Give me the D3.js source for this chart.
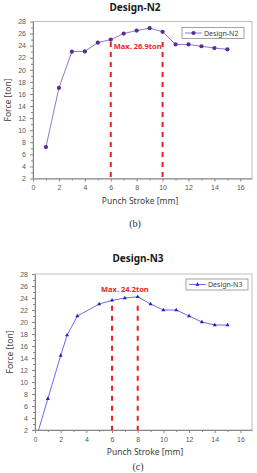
<!DOCTYPE html>
<html>
<head>
<meta charset="utf-8">
<script src="https://cdn.jsdelivr.net/npm/d3@7"></script>
<style>
  html, body { margin: 0; padding: 0; background: #fff; }
  svg { display: block; font-family: "Noto Sans", "DejaVu Sans", sans-serif; }
  .tick text { fill: #595959; font-size: 7px; }
  .tick line { stroke: #868686; }
  .domain { stroke: #868686; }
</style>
</head>
<body>
<svg id="fig" width="257" height="473"></svg>
<script>
// Design-N2 curve
var n2Stroke = [1, 2, 3, 4, 5, 6, 7, 8, 9, 10, 11, 12, 13, 14, 15];
var n2Force  = [7.2, 17, 23, 23.05, 24.5, 25, 26, 26.5, 26.9, 26.3, 24.2, 24.2, 23.9, 23.6, 23.4];
var n2MaxLines = [6, 10];

// Design-N3 curve (starts at origin, clipped by the y axis min)
var n3Stroke = [0, 1, 2, 2.5, 3.3, 5, 6, 7, 8, 9, 10, 11, 12, 13, 14, 15];
var n3Force  = [0, 7.2, 14.4, 17.8, 21, 23, 23.6, 24, 24.2, 23, 22, 22, 21, 20, 19.5, 19.5];
var n3MaxLines = [6, 8];

var xTicks = [0, 2, 4, 6, 8, 10, 12, 14, 16];
var yTicks = [2, 4, 6, 8, 10, 12, 14, 16, 18, 20, 22, 24, 26, 28];

var svg = d3.select('#fig');

// draws one of the two panels
function drawPanel(cfg) {
  var x = d3.scaleLinear().domain([0, 16.9]).range([cfg.left, cfg.right]);
  var y = d3.scaleLinear().domain([2, 28]).range([cfg.bottom, cfg.top]);
  var g = svg.append('g');

  g.append('text')
    .attr('x', cfg.titleX).attr('y', cfg.titleY)
    .attr('text-anchor', 'middle')
    .attr('font-size', 10).attr('font-weight', 'bold').attr('fill', '#1a1a1a')
    .text(cfg.title);

  // plot border
  g.append('rect')
    .attr('x', cfg.left).attr('y', cfg.top)
    .attr('width', cfg.right - cfg.left).attr('height', cfg.bottom - cfg.top)
    .attr('fill', 'none').attr('stroke', '#b0b0b0').attr('stroke-width', 0.8);

  // minor ticks
  g.append('g')
    .attr('transform', 'translate(0,' + cfg.bottom + ')')
    .call(d3.axisBottom(x).tickValues(d3.range(1, 17, 2)).tickSize(2).tickFormat(''))
    .select('.domain').remove();
  g.append('g')
    .attr('transform', 'translate(' + cfg.left + ',0)')
    .call(d3.axisLeft(y).tickValues(d3.range(3, 28, 2)).tickSize(2).tickFormat(''))
    .select('.domain').remove();

  g.append('g')
    .attr('transform', 'translate(0,' + cfg.bottom + ')')
    .call(d3.axisBottom(x).tickValues(xTicks).tickSize(3).tickPadding(4).tickSizeOuter(0));
  g.append('g')
    .attr('transform', 'translate(' + cfg.left + ',0)')
    .call(d3.axisLeft(y).tickValues(yTicks).tickSize(3).tickPadding(4).tickSizeOuter(0));

  g.append('text')
    .attr('x', cfg.xTitleX).attr('y', cfg.bottom + 25)
    .attr('text-anchor', 'middle').attr('font-size', 8.5).attr('fill', '#404040')
    .text('Punch Stroke [mm]');
  g.append('text')
    .attr('transform', 'translate(' + (cfg.left - 22) + ',' + ((cfg.top + cfg.bottom) / 2) + ') rotate(-90)')
    .attr('text-anchor', 'middle').attr('font-size', 8.5).attr('fill', '#404040')
    .text('Force [ton]');

  // red dashed max lines
  g.selectAll('line.max')
    .data(cfg.maxLines)
    .enter().append('line')
    .attr('class', 'max')
    .attr('x1', function(d) { return x(d); }).attr('x2', function(d) { return x(d); })
    .attr('y1', y(cfg.maxTop)).attr('y2', y(2))
    .attr('stroke', '#ee1c24').attr('stroke-width', 2)
    .attr('stroke-dasharray', '5,5');

  g.append('text')
    .attr('x', cfg.maxLabelX(x)).attr('y', cfg.maxLabelY)
    .attr('text-anchor', cfg.maxAnchor)
    .attr('font-size', 7.5).attr('font-weight', 'bold').attr('fill', '#ee1c24')
    .text(cfg.maxLabel);

  var clipId = 'clip' + cfg.id;
  g.append('clipPath').attr('id', clipId)
    .append('rect')
    .attr('x', cfg.left).attr('y', cfg.top)
    .attr('width', cfg.right - cfg.left).attr('height', cfg.bottom - cfg.top);

  var pts = cfg.xs.map(function(v, i) { return [v, cfg.ys[i]]; });
  var line = d3.line().x(function(d) { return x(d[0]); }).y(function(d) { return y(d[1]); });

  var plot = g.append('g').attr('clip-path', 'url(#' + clipId + ')');
  plot.append('path')
    .datum(pts)
    .attr('d', line)
    .attr('fill', 'none').attr('stroke', cfg.lineColor).attr('stroke-width', 1);

  plot.selectAll('path.mark')
    .data(pts)
    .enter().append('path')
    .attr('class', 'mark')
    .attr('transform', function(d) { return 'translate(' + x(d[0]) + ',' + y(d[1]) + ')'; })
    .attr('d', d3.symbol().type(cfg.symbol).size(cfg.symbolSize))
    .attr('fill', cfg.markColor);

  // legend
  var lw = 62, lh = 11;
  var lx = cfg.right - cfg.legendRight - lw, ly = cfg.top + cfg.legendTop;
  var lg = g.append('g').attr('transform', 'translate(' + lx + ',' + ly + ')');
  lg.append('rect').attr('width', lw).attr('height', lh)
    .attr('fill', '#fff').attr('stroke', '#8c8c8c').attr('stroke-width', 0.8);
  lg.append('line').attr('x1', 3).attr('x2', 20).attr('y1', lh / 2).attr('y2', lh / 2)
    .attr('stroke', cfg.lineColor).attr('stroke-width', 1);
  lg.append('path')
    .attr('transform', 'translate(11.5,' + lh / 2 + ')')
    .attr('d', d3.symbol().type(cfg.symbol).size(cfg.symbolSize))
    .attr('fill', cfg.markColor);
  lg.append('text').attr('x', 22).attr('y', lh / 2 + 2.5)
    .attr('font-size', 7).attr('fill', '#404040')
    .text(cfg.title);

  svg.append('text')
    .attr('x', cfg.captionX).attr('y', cfg.captionY)
    .attr('text-anchor', 'middle')
    .attr('font-family', '"Liberation Serif", "DejaVu Serif", serif')
    .attr('font-size', 10).attr('fill', '#333')
    .text(cfg.caption);
}

drawPanel({
  id: 'n2', title: 'Design-N2', titleX: 135, titleY: 11,
  left: 33, right: 252, top: 21.5, bottom: 178.5,
  xs: n2Stroke, ys: n2Force, maxLines: n2MaxLines, maxTop: 24.6,
  maxLabel: 'Max. 26.9ton', maxAnchor: 'start',
  maxLabelX: function(x) { return x(6) + 3; }, maxLabelY: 49,
  lineColor: '#8a7ad0', markColor: '#5a2d8e',
  symbol: d3.symbolCircle, symbolSize: 14,
  legendRight: 8, legendTop: 6,
  xTitleX: 140, caption: '(b)', captionX: 135, captionY: 227
});

drawPanel({
  id: 'n3', title: 'Design-N3', titleX: 138, titleY: 262,
  left: 35, right: 252, top: 274, bottom: 430,
  xs: n3Stroke, ys: n3Force, maxLines: n3MaxLines, maxTop: 22.7,
  maxLabel: 'Max. 24.2ton', maxAnchor: 'middle',
  maxLabelX: function(x) { return x(7); }, maxLabelY: 292,
  lineColor: '#6b6bf0', markColor: '#2020c0',
  symbol: d3.symbolTriangle, symbolSize: 7,
  legendRight: 4, legendTop: 5,
  xTitleX: 145, caption: '(c)', captionX: 138, captionY: 470
});
</script>
</body>
</html>
